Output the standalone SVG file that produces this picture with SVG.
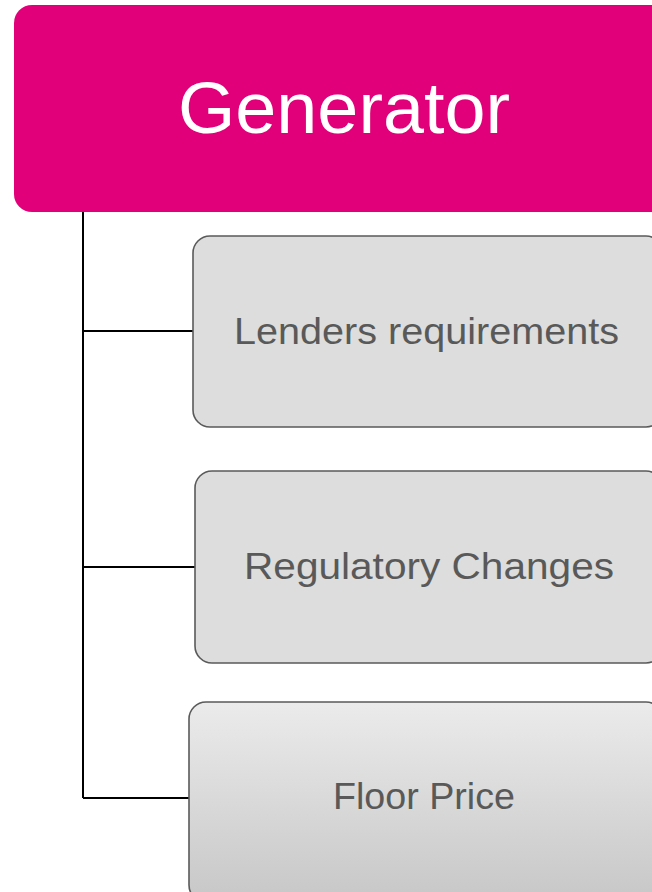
<svg xmlns="http://www.w3.org/2000/svg" width="652" height="892" viewBox="0 0 652 892">
<defs>
<linearGradient id="g3" x1="0" y1="0" x2="0" y2="1">
<stop offset="0" stop-color="#EBEBEB"/>
<stop offset="1" stop-color="#C6C7C6"/>
</linearGradient>
<style>
.child{fill:#DCDDDC;stroke:#5A5A5A;stroke-width:1.6}
.ctext{font-family:"Liberation Sans",Arial,sans-serif;font-size:37px;fill:#595959;text-anchor:start}
.conn{stroke:#000;stroke-width:2;fill:none}
</style>
</defs>
<rect width="652" height="892" fill="#FFFFFF"/>
<g id="connectors">
<path class="conn" d="M83 212 V798"/>
<path class="conn" d="M83 331 H193"/>
<path class="conn" d="M83 567 H195"/>
<path class="conn" d="M83 798 H189"/>
</g>
<g id="generator">
<rect x="14" y="5" width="680" height="207" rx="18" fill="#E2007A"/>
<text x="178" y="133" font-family="'Liberation Sans',Arial,sans-serif" font-size="72" fill="#FFFFFF" textLength="332" lengthAdjust="spacingAndGlyphs">Generator</text>
</g>
<g id="lenders">
<rect class="child" x="193" y="236" width="470" height="191" rx="17"/>
<text class="ctext" x="234" y="344" textLength="385" lengthAdjust="spacingAndGlyphs">Lenders requirements</text>
</g>
<g id="regulatory">
<rect class="child" x="195" y="471" width="468" height="192" rx="17"/>
<text class="ctext" x="244" y="579" textLength="370" lengthAdjust="spacingAndGlyphs">Regulatory Changes</text>
</g>
<g id="floor">
<rect x="189" y="702" width="474" height="200" rx="17" fill="url(#g3)" stroke="#5A5A5A" stroke-width="1.6"/>
<text class="ctext" x="333" y="809" textLength="182" lengthAdjust="spacingAndGlyphs">Floor Price</text>
</g>
</svg>
